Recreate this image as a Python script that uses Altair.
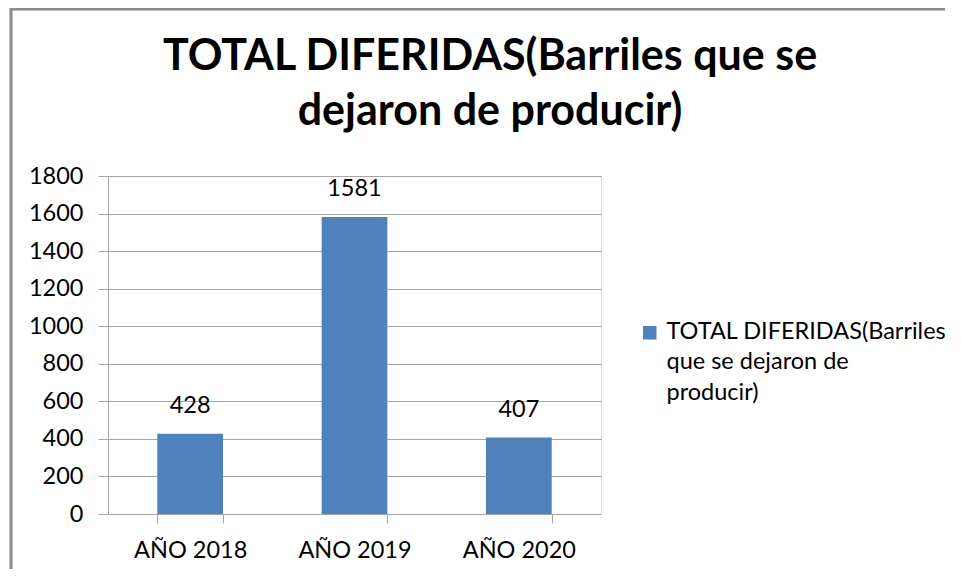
import altair as alt
import pandas as pd

categories = ["AÑO 2018", "AÑO 2019", "AÑO 2020"]
values = [428, 1581, 407]
series_name = "TOTAL DIFERIDAS(Barriles que se dejaron de producir)"
legend_lines = ["TOTAL DIFERIDAS(Barriles", "que se dejaron de", "producir)"]
title_lines = ["TOTAL DIFERIDAS(Barriles que se", "dejaron de producir)"]
y_ticks = [0, 200, 400, 600, 800, 1000, 1200, 1400, 1600, 1800]

df = pd.DataFrame({"cat": categories, "val": values, "series": [series_name] * 3})
title_df = pd.DataFrame({"title": ["\n".join(title_lines)]})

FONT = "Lato"
FS = 23.5
GRID = "#a6a6a6"
BLUE = "#4f81bd"
LDY = -13  # vertical nudge applied to guide labels

legend_expr = "[" + ", ".join("'" + s + "'" for s in legend_lines) + "]"

x_enc = alt.X("cat:N", sort=categories, title=None,
              scale=alt.Scale(paddingInner=0.6, paddingOuter=0.3),
              axis=alt.Axis(labelAngle=0, labelFontSize=FS, labelFont=FONT, labelColor="#000",
                            labelPadding=28, tickBand="extent", tickSize=9, tickColor=GRID,
                            domainColor=GRID, grid=False))
y_enc = alt.Y("val:Q", title=None,
              scale=alt.Scale(domain=[0, 1800], nice=False),
              axis=alt.Axis(values=y_ticks, format="d", labelOverlap=False, labelFlush=False,
                            labelFontSize=FS, labelFont=FONT, labelColor="#000",
                            labelPadding=15, labelOffset=-LDY, tickSize=10, tickColor=GRID,
                            domainColor=GRID, gridColor=GRID, grid=True))

base = alt.Chart(df)

bars = base.mark_bar(color=BLUE).encode(
    x=x_enc,
    y=y_enc,
    color=alt.Color("series:N", scale=alt.Scale(range=[BLUE]), title=None,
                    legend=alt.Legend(orient="none", legendX=530, legendY=145,
                                      symbolType="square", symbolSize=182, symbolStrokeWidth=0,
                                      labelFontSize=FS, labelFont=FONT, labelColor="#000",
                                      labelLimit=400, labelOffset=5, labelBaseline="top",
                                      labelExpr=legend_expr)),
)

labels = base.mark_text(fontSize=FS, font=FONT, color="#000", baseline="middle", dy=-28).encode(
    x=x_enc,
    y=y_enc,
    text="val:Q",
)

title = alt.Chart(title_df).mark_text(
    font=FONT, fontSize=43, fontWeight="bold", color="#000", baseline="alphabetic",
    align="center", lineBreak="\n", lineHeight=55,
).encode(text="title:N", x=alt.value(382), y=alt.value(-106))

frame_top = base.mark_rule(color="#8c8c8c", strokeWidth=2.5, clip=False).encode(
    x=alt.value(-98), x2=alt.value(845), y=alt.value(-167)
)
frame_left = base.mark_rule(color="#8c8c8c", strokeWidth=2.5, clip=False).encode(
    x=alt.value(-97), y=alt.value(-168), y2=alt.value(410)
)

chart = alt.layer(frame_top, frame_left, title, bars, labels).properties(
    width=493, height=338,
    padding={"left": 100, "top": 168, "right": 344, "bottom": 55},
    autosize=alt.AutoSizeParams(type="none"),
).configure_view(strokeWidth=0).configure(
    style={"guide-label": {"lineHeight": 30.5, "dy": LDY}}
)

chart.save("out.html", embed_options={"renderer": "svg", "actions": False})
